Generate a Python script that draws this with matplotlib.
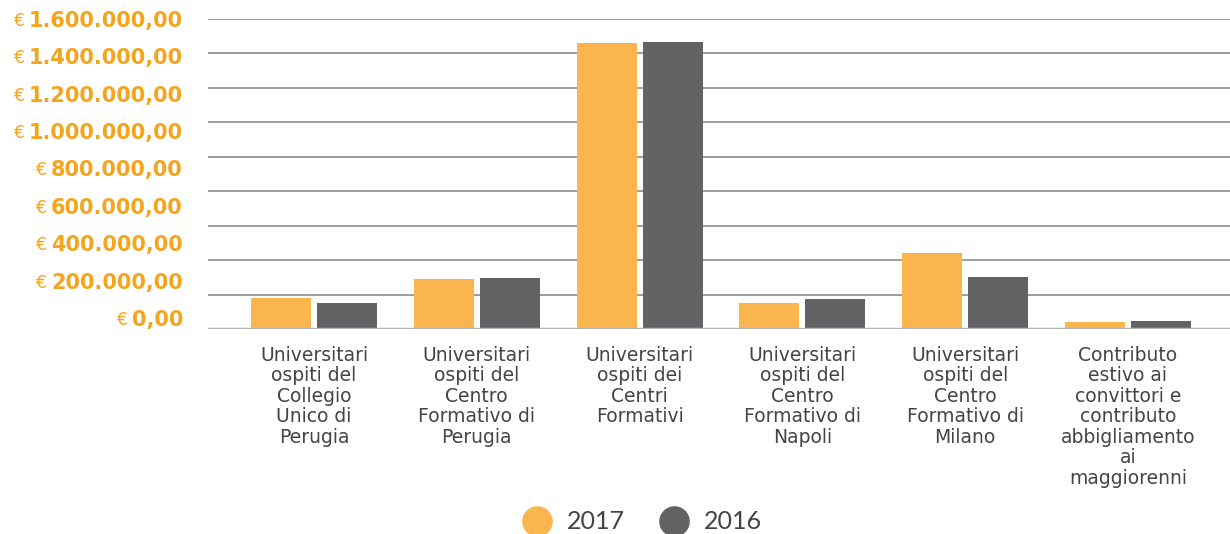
import matplotlib
matplotlib.use('Agg')
import matplotlib.pyplot as plt
from matplotlib.lines import Line2D
import numpy as np

categories = [
    'Universitari\nospiti del\nCollegio\nUnico di\nPerugia',
    'Universitari\nospiti del\nCentro\nFormativo di\nPerugia',
    'Universitari\nospiti dei\nCentri\nFormativi',
    'Universitari\nospiti del\nCentro\nFormativo di\nNapoli',
    'Universitari\nospiti del\nCentro\nFormativo di\nMilano',
    'Contributo\nestivo ai\nconvittori e\ncontributo\nabbigliamento\nai\nmaggiorenni',
]
values_2017 = [160000, 258000, 1476000, 135000, 394000, 37000]
values_2016 = [134000, 263000, 1481000, 155000, 268000, 42000]
ytick_labels = ['0,00', '200.000,00', '400.000,00', '600.000,00', '800.000,00',
                '1.000.000,00', '1.200.000,00', '1.400.000,00', '1.600.000,00']

orange = '#FBB54E'
gray = '#626264'
label_orange = '#F5A41D'
text_gray = '#444444'

fig = plt.figure(figsize=(12.3, 5.34), dpi=100)
ax = fig.add_axes([208 / 1230, 205 / 534, 1 - 208 / 1230, 310 / 534])

ymax = 1600000
x = np.arange(len(categories))
w = 0.369
off = 0.2027
ax.bar(x - off, values_2017, w, color=orange, zorder=3)
ax.bar(x + off, values_2016, w, color=gray, zorder=3)

# gridlines
for g in np.linspace(0, ymax, 10)[1:]:
    ax.axhline(g, color='#8c8c8c', lw=1.2, zorder=1)
ax.axhline(0, color='#b4b4b4', lw=2.5, zorder=4)

ax.set_xlim(-0.651, 5.627)
ax.set_ylim(0, ymax)
for s in ax.spines.values():
    s.set_visible(False)

ax.set_xticks(x)
ax.set_xticklabels(categories, fontsize=13.5, color=text_gray, family='DejaVu Sans',
                   linespacing=1.1, va='top')
ax.tick_params(axis='x', length=0, pad=12)

ypos = np.linspace(57000, ymax, len(ytick_labels))
ax.set_yticks(ypos)
ax.set_yticklabels(ytick_labels, fontsize=15, fontweight='bold',
                   color=label_orange, family='DejaVu Sans')
ax.tick_params(axis='y', length=0, pad=18)

fig.canvas.draw()
r = fig.canvas.get_renderer()
inv = fig.transFigure.inverted()
for t in ax.get_yticklabels():
    bb = t.get_window_extent(r)
    px, py = inv.transform((bb.x0 - 5, (bb.y0 + bb.y1) / 2))
    fig.text(px, py, '€', ha='right', va='center', fontsize=12.5,
             color=label_orange, family='DejaVu Sans')

handles = [Line2D([], [], marker='o', ls='', ms=21, color=orange),
           Line2D([], [], marker='o', ls='', ms=21, color=gray)]
fig.legend(handles, ['2017', '2016'], loc='center', ncol=2,
           bbox_to_anchor=(0.518, 0.0225), frameon=False,
           handletextpad=0.2, columnspacing=0.95, labelcolor=text_gray,
           prop={'family': 'Lato', 'size': 18})

fig.savefig('out.png')
plt.close()
